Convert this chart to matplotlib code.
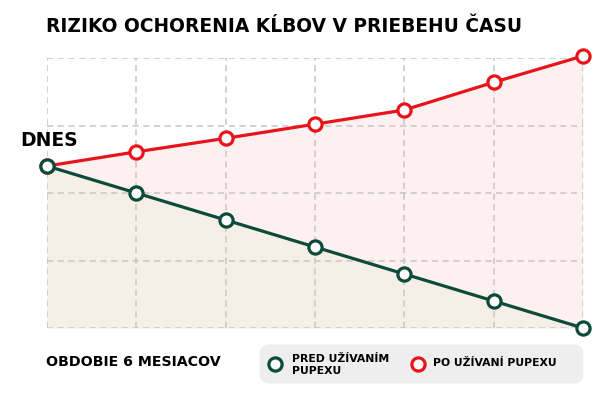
import matplotlib
matplotlib.use('Agg')
import matplotlib.pyplot as plt
from matplotlib.lines import Line2D
from matplotlib.patches import FancyBboxPatch

months = [0, 1, 2, 3, 4, 5, 6]
pred = [2.4, 2.0, 1.6, 1.2, 0.8, 0.4, 0.0]
po = [2.4, 2.61, 2.81, 3.02, 3.23, 3.64, 4.03]

title = 'RIZIKO OCHORENIA KĹBOV V PRIEBEHU ČASU'
label_pred = 'PRED UŽÍVANÍM\nPUPEXU'
label_po = 'PO UŽÍVANÍ PUPEXU'

red = '#e8141c'
green = '#0c4a3a'

plt.rcParams['font.family'] = ['DejaVu Sans']

fig = plt.figure(figsize=(6, 3.96), dpi=100)
ax = fig.add_axes([47 / 600, 68 / 396, 536 / 600, 270 / 396])

ax.fill_between(months, po, 0, color='#fdf0f0', lw=0, zorder=1)
ax.fill_between(months, pred, 0, color='#f5efe7', lw=0, zorder=1)

ax.plot(months, po, color=red, lw=2.3, marker='o', ms=9.5, mfc='white',
        mec=red, mew=2.3, clip_on=False, zorder=4)
ax.plot(months, pred, color=green, lw=2.3, marker='o', ms=9.5, mfc='white',
        mec=green, mew=2.3, clip_on=False, zorder=4)

ax.set_xlim(0, 6)
ax.set_ylim(0, 4)
ax.set_xticks(months)
ax.set_yticks([0, 1, 2, 3, 4])
ax.grid(True, color='#cbc4c4', ls=(0, (4, 3)), lw=1.1, zorder=2)
ax.set_axisbelow(False)
ax.tick_params(length=0, labelbottom=False, labelleft=False)
for s in ax.spines.values():
    s.set_visible(False)

fig.text(46 / 600, 1 - 27 / 396, title, fontsize=13.4, fontweight='bold',
         va='center', ha='left')
fig.text(20 / 600, 1 - 140 / 396, 'DNES', fontsize=13.5, fontweight='bold',
         va='center', ha='left')
fig.text(46 / 600, 1 - 362 / 396, 'OBDOBIE 6 MESIACOV', fontsize=10.2,
         fontweight='bold', va='center', ha='left')

# legend box drawn by hand
box = FancyBboxPatch((262 / 600, 1 - 382 / 396), 319 / 600, 36 / 396,
                     boxstyle='round,pad=0.004,rounding_size=0.02',
                     transform=fig.transFigure, fc='#eeeeee', ec='none')
fig.add_artist(box)
for xm, col in [(275, green), (418, red)]:
    fig.add_artist(Line2D([xm / 600], [1 - 364 / 396], transform=fig.transFigure,
                          ls='none', marker='o', ms=9.5, mfc='white', mec=col,
                          mew=2.3))
fig.text(292 / 600, 1 - 365 / 396, label_pred, fontsize=7.8, fontweight='bold',
         va='center', ha='left', linespacing=1.15)
fig.text(433 / 600, 1 - 363 / 396, label_po, fontsize=7.8, fontweight='bold',
         va='center', ha='left')

fig.savefig('out.png', dpi=100, facecolor='white')
